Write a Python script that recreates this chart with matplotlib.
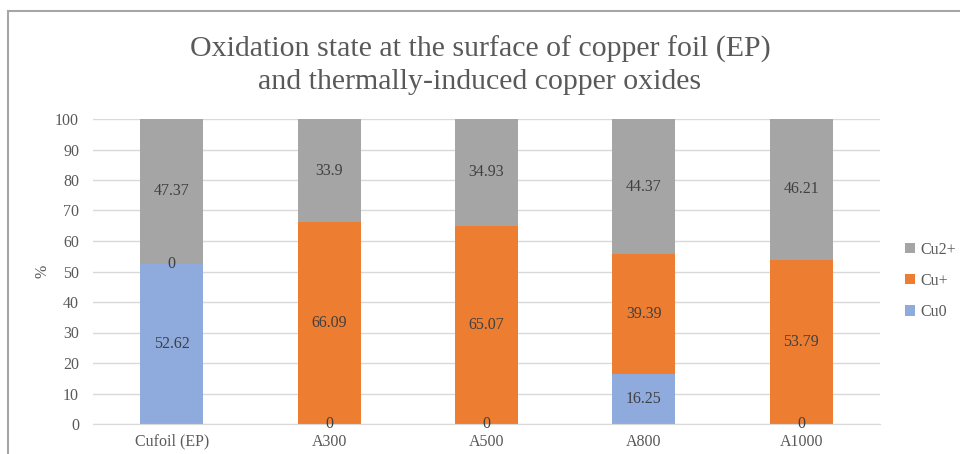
import matplotlib
matplotlib.use("Agg")
import matplotlib.pyplot as plt
from matplotlib.patches import Rectangle
import numpy as np

categories = ["Cufoil (EP)", "A300", "A500", "A800", "A1000"]
cu0 = [52.62, 0, 0, 16.25, 0]
cu1 = [0, 66.09, 65.07, 39.39, 53.79]
cu2 = [47.37, 33.9, 34.93, 44.37, 46.21]
series_names = ["Cu0", "Cu+", "Cu2+"]
colors = ["#8FAADC", "#ED7D31", "#A5A5A5"]
yticks = [0, 10, 20, 30, 40, 50, 60, 70, 80, 90, 100]

plt.rcParams['font.family'] = ['Liberation Serif', 'DejaVu Serif']

W, H = 960, 454
fig = plt.figure(figsize=(W / 100, H / 100), dpi=100)
ax = fig.add_axes([93 / W, 1 - 424 / H, (880 - 93) / W, (424 - 119) / H])

FS = 11.5
x = np.arange(len(categories))
bottom = np.zeros(len(categories))
handles = []
for vals, name, col in zip([cu0, cu1, cu2], series_names, colors):
    vals = np.array(vals, dtype=float)
    b = ax.bar(x, vals, width=0.4, bottom=bottom, color=col, label=name, zorder=2)
    handles.append(b)
    for xi, v, bt in zip(x, vals, bottom):
        ax.text(xi, bt + v / 2, f"{v:g}", ha="center", va="center",
                fontsize=FS, color="#404040", zorder=3)
    bottom += vals

ax.set_xlim(-0.5, len(categories) - 0.5)
ax.set_ylim(0, 100)
ax.set_yticks(yticks)
ax.set_yticklabels([str(t) for t in yticks])
ax.set_xticks(x)
ax.set_xticklabels(categories)
ax.tick_params(axis="both", length=0, labelsize=FS, labelcolor="#595959")
ax.tick_params(axis="y", pad=10)
ax.tick_params(axis="x", pad=7)
ax.grid(axis="y", color="#D9D9D9", linewidth=1, zorder=0)
ax.set_axisbelow(True)
for s in ["top", "right", "left"]:
    ax.spines[s].set_visible(False)
ax.spines["bottom"].set_color("#D9D9D9")
ax.set_ylabel("%", fontsize=FS, color="#595959", labelpad=3)

fig.suptitle("Oxidation state at the surface of copper foil (EP)\nand thermally-induced copper oxides",
             fontsize=21.5, color="#595959", y=1 - 36 / H, va="top", linespacing=1.3)

leg = fig.legend(handles=handles[::-1], labels=series_names[::-1], loc="center left",
                 bbox_to_anchor=(891 / W, 1 - 281 / H), frameon=False, fontsize=FS,
                 handlelength=0.6, handleheight=0.6, handletextpad=0.35, labelspacing=0.95,
                 labelcolor="#595959")

fig.patches.append(Rectangle((8 / W, -0.1), 1.2, 1 - 11 / H + 0.1, transform=fig.transFigure,
                             fill=False, edgecolor="#A6A6A6", linewidth=1.5))

fig.savefig("out.png", dpi=100)
